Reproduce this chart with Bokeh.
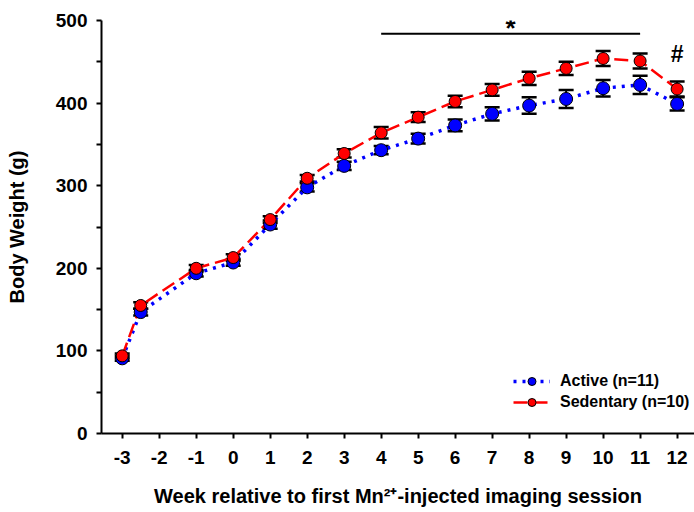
from bokeh.plotting import figure
from bokeh.models import (ColumnDataSource, Whisker, TeeHead, FixedTicker, Range1d,
                          Legend, LegendItem)
from bokeh.core.properties import value
from bokeh.embed import file_html
from bokeh.resources import INLINE

# ---- data ----
weeks = [-3, -2.5, -1, 0, 1, 2, 3, 4, 5, 6, 7, 8, 9, 10, 11, 12]
x_ticks = [-3, -2, -1, 0, 1, 2, 3, 4, 5, 6, 7, 8, 9, 10, 11, 12]
x_tick_labels = ["-3", "-2", "-1", "0", "1", "2", "3", "4", "5", "6", "7", "8",
                 "9", "10", "11", "12"]
y_ticks = [0, 100, 200, 300, 400, 500]
active = [91, 147, 194, 207, 253, 298, 324, 343, 357, 373, 387, 397, 405, 418, 422, 399]
active_sem = [3, 4, 4, 4, 5, 5, 5, 5, 6, 7, 8, 10, 11, 10, 11, 8]
sedentary = [94, 155, 200, 213, 259, 309, 339, 364, 383, 402, 416, 430, 442, 454, 451, 417]
sedentary_sem = [3, 4, 4, 4, 4, 4, 5, 7, 6, 7, 7, 8, 8, 9, 9, 9]
sig_span = [4, 11]
sig_level = 484
hash_week = 12

FONT = "Liberation Sans"

src_a = ColumnDataSource(dict(x=weeks, y=active,
                              lo=[v - e for v, e in zip(active, active_sem)],
                              hi=[v + e for v, e in zip(active, active_sem)]))
src_s = ColumnDataSource(dict(x=weeks, y=sedentary,
                              lo=[v - e for v, e in zip(sedentary, sedentary_sem)],
                              hi=[v + e for v, e in zip(sedentary, sedentary_sem)]))

p = figure(width=694, height=512, output_backend="svg", toolbar_location=None,
           x_range=Range1d(-3.56, 12.47), y_range=Range1d(0, 500),
           min_border_left=101, min_border_right=0, min_border_top=20,
           min_border_bottom=79)
p.outline_line_color = None
p.xgrid.visible = False
p.ygrid.visible = False
p.background_fill_color = "white"
p.border_fill_color = "white"

# lines
la = p.line("x", "y", source=src_a, line_color="#0000ff", line_width=3.5,
            line_dash="3 6")
ls = p.line("x", "y", source=src_s, line_color="#ff0000", line_width=2.5,
            line_dash="14 6")

# error bars
for src in (src_a, src_s):
    w = Whisker(base="x", lower="lo", upper="hi", source=src,
                line_color="black", line_width=2,
                lower_head=TeeHead(size=15, line_color="black", line_width=2.5),
                upper_head=TeeHead(size=15, line_color="black", line_width=2.5))
    p.add_layout(w)

ma = p.scatter("x", "y", source=src_a, size=13, fill_color="#0000ff",
               line_color="black", line_width=1)
ms = p.scatter("x", "y", source=src_s, size=12, fill_color="#ff0000",
               line_color="black", line_width=1)

# significance annotations
p.line(x=sig_span, y=[sig_level, sig_level], line_color="black", line_width=2)
p.text(x=[sum(sig_span) / 2], y=[491], text=["*"],
       text_font=value(FONT), text_font_style="bold", text_font_size="26px",
       text_align="center", text_baseline="middle", text_color="black")
p.text(x=[hash_week], y=[459], text=["#"],
       text_font=value(FONT), text_font_style="bold", text_font_size="23px",
       text_align="center", text_baseline="middle", text_color="black")

# axes
p.xaxis.ticker = FixedTicker(ticks=x_ticks)
p.xaxis.major_label_overrides = {t: s for t, s in zip(x_ticks, x_tick_labels)}
p.yaxis.ticker = FixedTicker(ticks=y_ticks, minor_ticks=[50, 150, 250, 350, 450])
for ax in (p.xaxis[0], p.yaxis[0]):
    ax.axis_line_width = 2
    ax.axis_line_color = "black"
    ax.major_tick_line_width = 2
    ax.major_tick_line_color = "black"
    ax.major_tick_in = 0
    ax.major_tick_out = 5
    ax.major_label_text_font = FONT
    ax.major_label_text_font_style = "bold"
    ax.major_label_text_font_size = "19px"
    ax.major_label_text_color = "black"
    ax.axis_label_text_font = FONT
    ax.axis_label_text_font_style = "bold"
    ax.axis_label_text_font_size = "20px"
    ax.axis_label_text_color = "black"
p.xaxis.minor_tick_line_color = None
p.yaxis.minor_tick_line_width = 2
p.yaxis.minor_tick_line_color = "black"
p.yaxis.minor_tick_in = 0
p.yaxis.minor_tick_out = 5
p.xaxis.major_label_standoff = 12
p.yaxis.major_label_standoff = 9
p.xaxis.axis_label = "Week relative to first Mn\u00b2\u207a-injected imaging session"
p.yaxis.axis_label = "Body Weight (g)"
p.xaxis.axis_label_standoff = 18
p.yaxis.axis_label_standoff = 25

legend = Legend(items=[LegendItem(label="Active (n=11)", renderers=[la, ma]),
                       LegendItem(label="Sedentary (n=10)", renderers=[ls, ms])],
                location=(412, 21), border_line_color=None,
                background_fill_alpha=0, padding=0, margin=0, spacing=1,
                label_height=20, glyph_height=20, glyph_width=37,
                label_standoff=10, label_text_font=FONT,
                label_text_font_style="bold", label_text_font_size="16px",
                label_text_color="black")
p.add_layout(legend)

open("out.html", "w").write(file_html(p, INLINE))
